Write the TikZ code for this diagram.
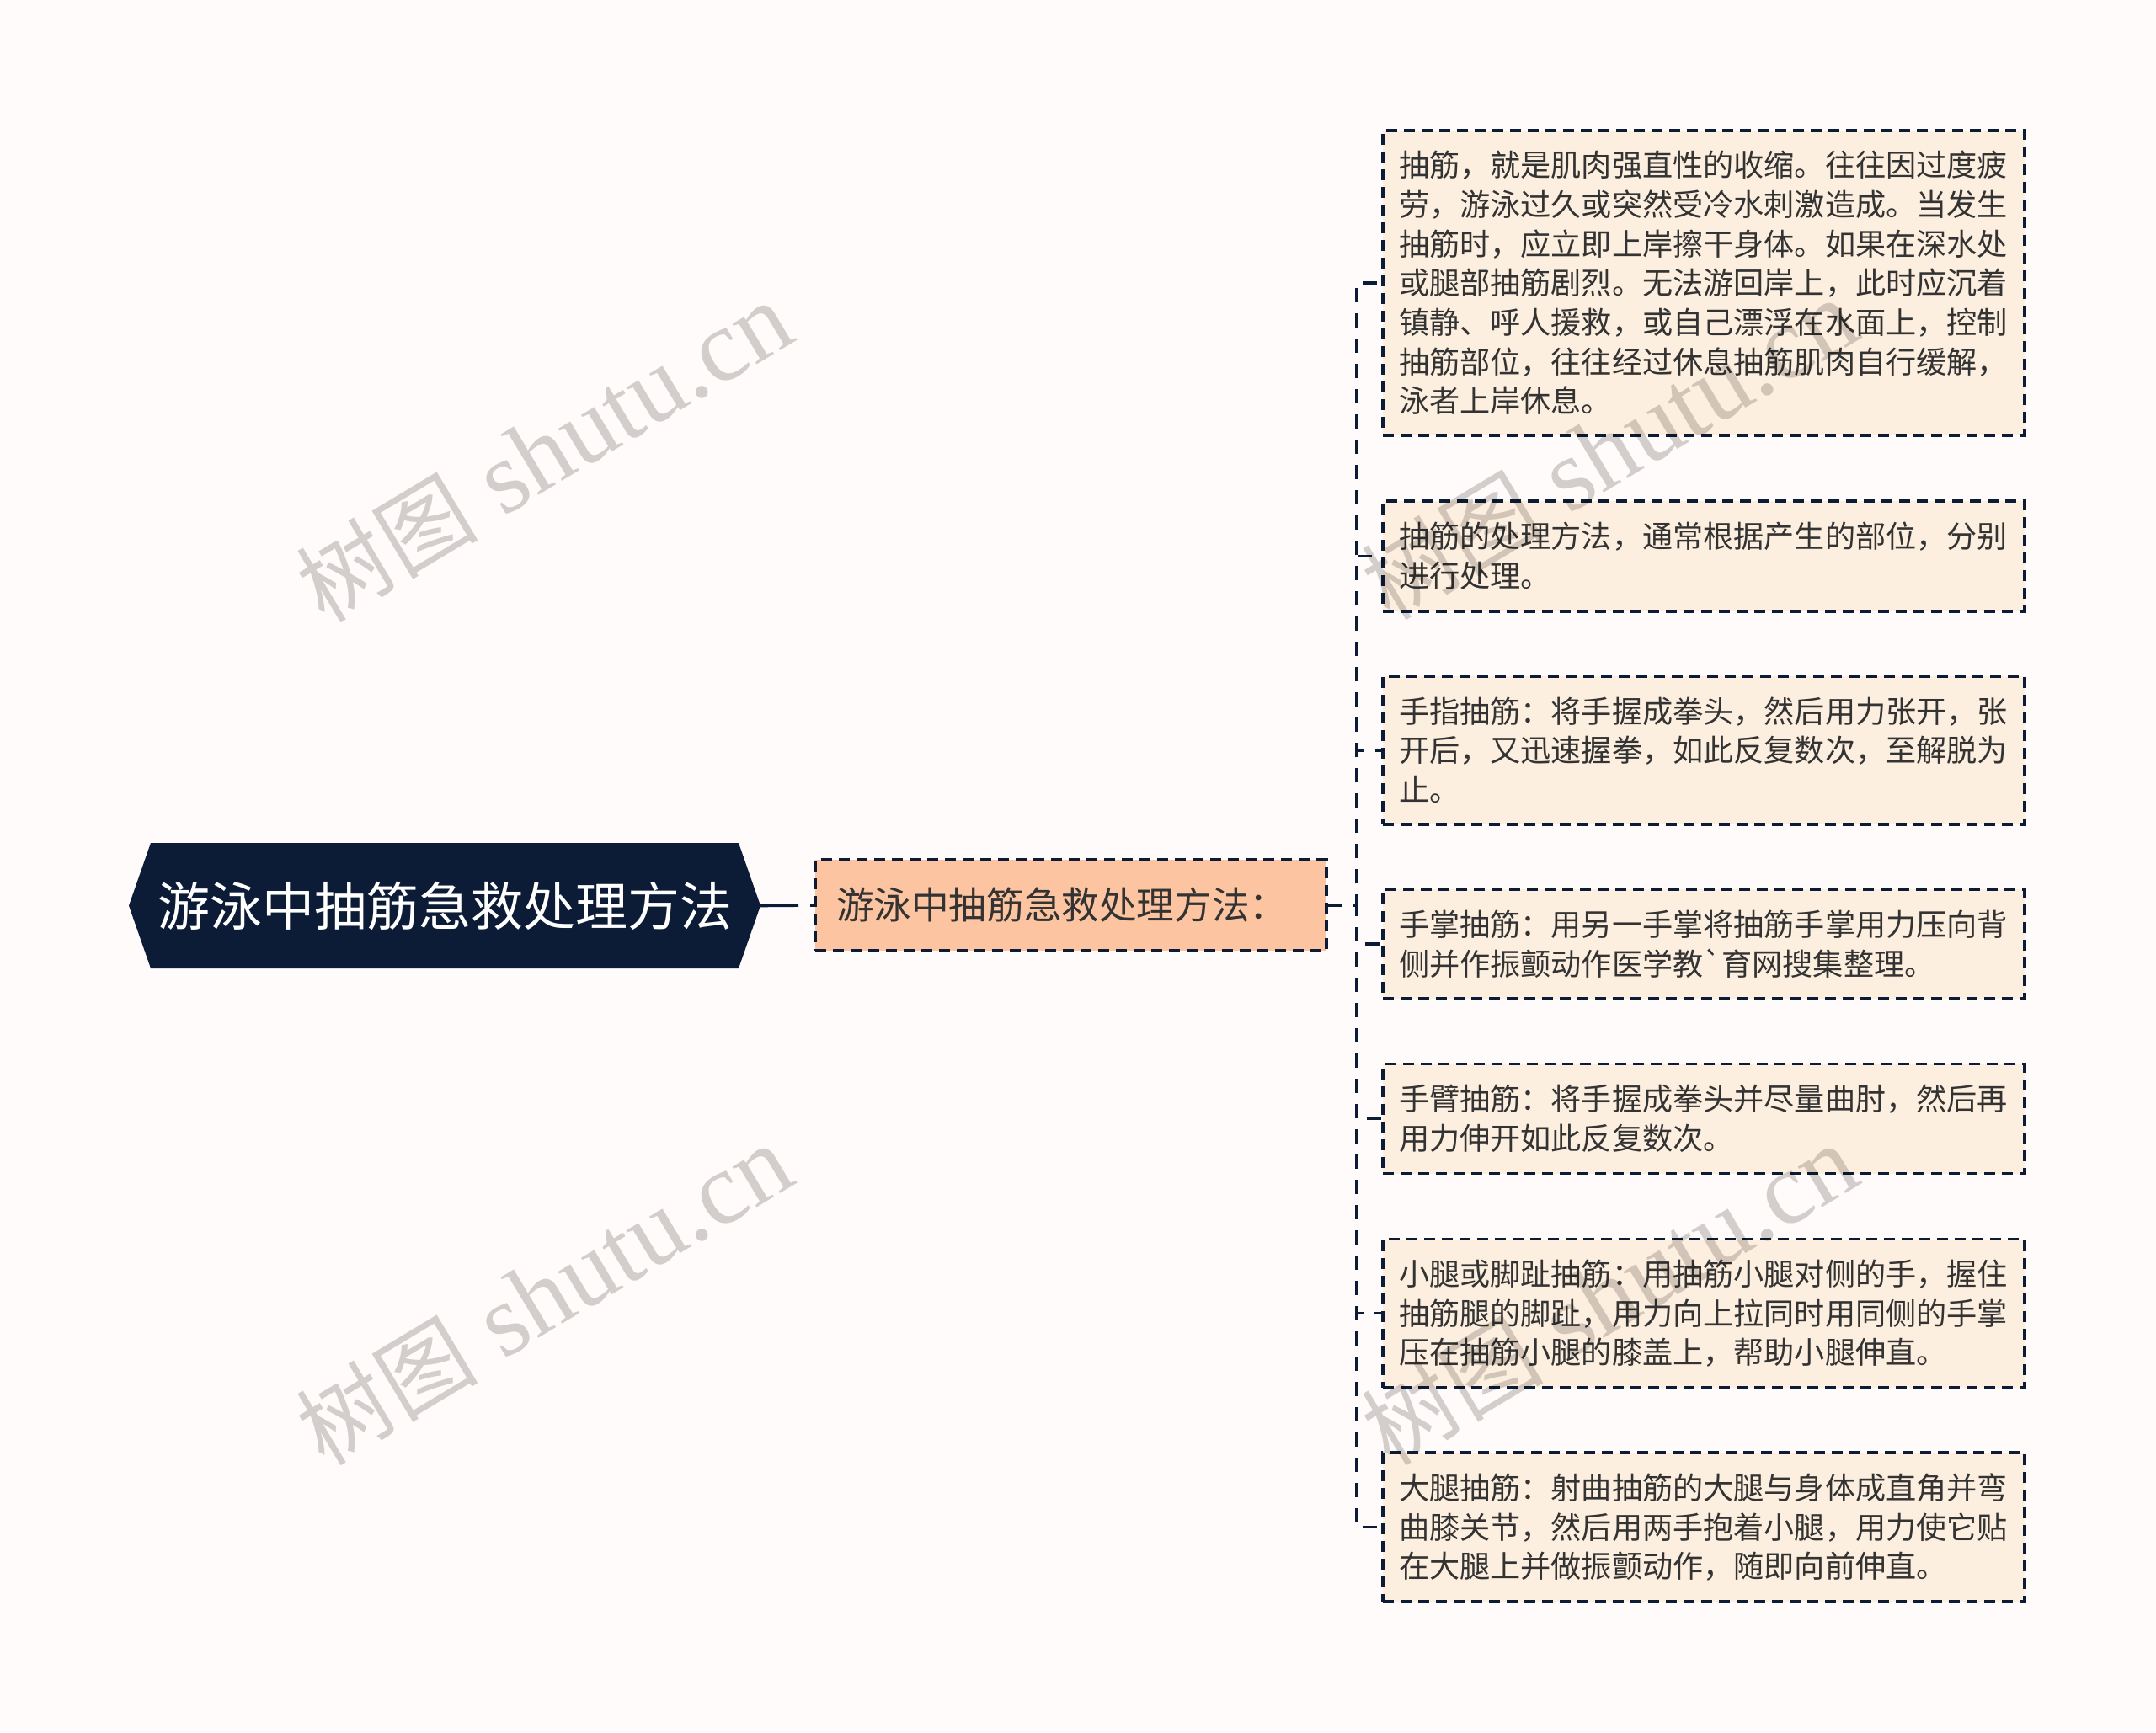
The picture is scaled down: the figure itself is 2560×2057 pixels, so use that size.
\documentclass[tikz,border=0pt]{standalone}
\usepackage{fontspec}
\newfontfamily\cjk{Noto Sans CJK SC}
\newfontfamily\wmlat{Liberation Serif}
\definecolor{bgc}{RGB}{254,251,250}
\definecolor{navy}{RGB}{13,28,54}
\definecolor{peach}{RGB}{252,196,160}
\definecolor{cream}{RGB}{253,239,223}
\definecolor{txt}{RGB}{51,51,51}
\definecolor{wm}{RGB}{212,210,209}
\newcommand\mys{\rule[-0.12em]{0pt}{1em}}
\begin{document}
\begin{tikzpicture}[x=1pt,y=-1pt,
  leaf/.style={draw=navy, line width=3.6pt, dash pattern=on 13pt off 8pt, fill=cream, text=txt,
    font=\cjk\fontsize{36.15pt}{46.67pt}\selectfont, text width=724pt, align=left,
    inner xsep=19pt, inner ysep=0pt, minimum height=#1},
  midbox/.style={draw=navy, line width=3.6pt, dash pattern=on 13pt off 8pt, fill=peach, text=txt,
    font=\cjk\fontsize{44.6pt}{50pt}\selectfont, text width=557pt, align=left,
    inner xsep=25pt, inner ysep=0pt, minimum height=108pt},
  rootbox/.style={text=white, font=\cjk\fontsize{62pt}{70pt}\selectfont,
    minimum width=750pt, minimum height=149pt, inner sep=0pt},
  conn/.style={draw=navy, line width=3.6pt, dash pattern=on 17pt off 13pt},
  rootconn/.style={draw=navy, line width=3.6pt, dash pattern=on 45pt off 14pt},
  wmark/.style={text=wm, font=\wmlat\fontsize{122pt}{122pt}\selectfont, inner sep=0pt, rotate=31}
]
\useasboundingbox (0,0) rectangle (2560,2057);
\fill[bgc] (0,0) rectangle (2560,2057);

% root hexagon
\fill[navy] (153,1075.5) -- (179,1001) -- (877,1001) -- (903,1075.5) -- (877,1150) -- (179,1150) -- cycle;
\node[rootbox] (root) at (528,1075.5) {游泳中抽筋急救处理方法};

\node[midbox] (mid) at (1271.5,1075) {\mys 游泳中抽筋急救处理方法：};

\node[leaf=362pt] (c1) at (2023,336) {\mys 抽筋，就是肌肉强直性的收缩。往往因过度疲\\\mys 劳，游泳过久或突然受冷水刺激造成。当发生\\\mys 抽筋时，应立即上岸擦干身体。如果在深水处\\\mys 或腿部抽筋剧烈。无法游回岸上，此时应沉着\\\mys 镇静、呼人援救，或自己漂浮在水面上，控制\\\mys 抽筋部位，往往经过休息抽筋肌肉自行缓解，\\\mys 泳者上岸休息。};
\node[leaf=131pt] (c2) at (2023,660.5) {\mys 抽筋的处理方法，通常根据产生的部位，分别\\\mys 进行处理。};
\node[leaf=176pt] (c3) at (2023,891) {\mys 手指抽筋：将手握成拳头，然后用力张开，张\\\mys 开后，又迅速握拳，如此反复数次，至解脱为\\\mys 止。};
\node[leaf=130pt] (c4) at (2023,1121) {\mys 手掌抽筋：用另一手掌将抽筋手掌用力压向背\\\mys 侧并作振颤动作医学教`育网搜集整理。};
\node[leaf=130pt] (c5) at (2023,1328.5) {\mys 手臂抽筋：将手握成拳头并尽量曲肘，然后再\\\mys 用力伸开如此反复数次。};
\node[leaf=176pt] (c6) at (2023,1559.5) {\mys 小腿或脚趾抽筋：用抽筋小腿对侧的手，握住\\\mys 抽筋腿的脚趾，用力向上拉同时用同侧的手掌\\\mys 压在抽筋小腿的膝盖上，帮助小腿伸直。};
\node[leaf=177pt] (c7) at (2023,1813.5) {\mys 大腿抽筋：射曲抽筋的大腿与身体成直角并弯\\\mys 曲膝关节，然后用两手抱着小腿，用力使它贴\\\mys 在大腿上并做振颤动作，随即向前伸直。};

% connectors
\draw[rootconn] (root.east) -- (mid.west);
\foreach \c in {c1,c2,c3,c4,c5,c6,c7}
  \draw[conn] (mid.east) -- ++(34,0) |- (\c.west);

% watermarks
\begin{scope}[blend mode=multiply]
\node[wmark] (w1) at (646,537) {{\cjk\fontsize{108pt}{108pt}\selectfont 树图} shutu.cn};
\node[wmark] (w2) at (646,1538) {{\cjk\fontsize{108pt}{108pt}\selectfont 树图} shutu.cn};
\node[wmark] (w3) at (1911,534) {{\cjk\fontsize{108pt}{108pt}\selectfont 树图} shutu.cn};
\node[wmark] (w4) at (1911,1538) {{\cjk\fontsize{108pt}{108pt}\selectfont 树图} shutu.cn};
\end{scope}
\end{tikzpicture}
\end{document}
